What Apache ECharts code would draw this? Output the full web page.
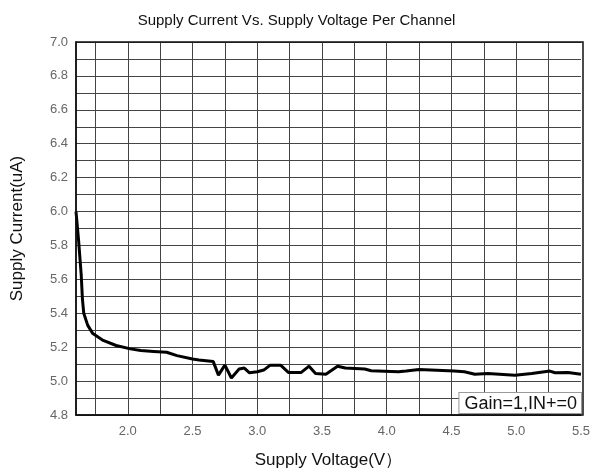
<!DOCTYPE html>
<html>
<head>
<meta charset="utf-8">
<script src="https://cdn.jsdelivr.net/npm/echarts@6/dist/echarts.min.js"></script>
<style>
    html, body { margin: 0; padding: 0; background: #fff; }
    #chart { width: 593px; height: 475px; }
</style>
</head>
<body>
<div id="chart"></div>
<script>
// 数据：电源电压(V) 与 每通道电源电流(uA)
const voltage = [1.60, 1.62, 1.64, 1.65, 1.66, 1.69, 1.73, 1.81, 1.91, 2.02, 2.10, 2.20, 2.30, 2.38, 2.50,
    2.55, 2.66, 2.70, 2.75, 2.80, 2.86, 2.90, 2.94, 3.00, 3.05, 3.10, 3.18, 3.24, 3.34, 3.40, 3.45, 3.53,
    3.62, 3.68, 3.83, 3.88, 4.09, 4.15, 4.25, 4.52, 4.60, 4.68, 4.78, 4.99, 5.12, 5.26, 5.30, 5.40, 5.50];
const current = [6.00, 5.83, 5.63, 5.48, 5.40, 5.33, 5.28, 5.24, 5.21, 5.19, 5.18, 5.175, 5.17, 5.15, 5.13,
    5.125, 5.115, 5.035, 5.094, 5.018, 5.071, 5.077, 5.049, 5.055, 5.065, 5.094, 5.094, 5.051, 5.051, 5.088, 5.045, 5.041,
    5.088, 5.077, 5.071, 5.061, 5.055, 5.06, 5.069, 5.06, 5.055, 5.04, 5.045, 5.035, 5.045, 5.059, 5.049, 5.051, 5.041];

// 坐标轴刻度
const xLabelValues = [2.0, 2.5, 3.0, 3.5, 4.0, 4.5, 5.0, 5.5];
const xGridValues = [1.75, 2.0, 2.25, 2.5, 2.75, 3.0, 3.25, 3.5, 3.75, 4.0, 4.25, 4.5, 4.75, 5.0, 5.25];

const chart = echarts.init(document.getElementById('chart'));

const gridColor = '#444';

chart.setOption({
    animation: false,
    title: {
        text: 'Supply Current Vs. Supply Voltage Per Channel',
        left: 'center',
        top: 8,
        textStyle: { fontFamily: 'Liberation Sans', fontSize: 15, fontWeight: 'normal', color: '#111' }
    },
    grid: { left: 76, right: 10, top: 42, bottom: 60 },
    xAxis: {
        type: 'value',
        min: 1.6,
        max: 5.5,
        name: 'Supply Voltage(V）',
        nameLocation: 'middle',
        nameGap: 37,
        nameTextStyle: { fontFamily: 'Liberation Sans', fontSize: 17, color: '#111' },
        axisLine: { show: true, lineStyle: { color: '#111', width: 1.5 } },
        axisTick: { show: false },
        splitLine: { show: false },
        axisLabel: {
            customValues: xLabelValues,
            margin: 10,
            color: '#666',
            fontFamily: 'Liberation Sans',
            fontSize: 13,
            formatter: v => v.toFixed(1)
        }
    },
    yAxis: {
        type: 'value',
        min: 4.8,
        max: 7.0,
        interval: 0.1,
        name: 'Supply Current(uA)',
        nameLocation: 'middle',
        nameGap: 50,
        nameTextStyle: { fontFamily: 'Liberation Sans', fontSize: 17, color: '#111' },
        axisLine: { show: true, lineStyle: { color: '#111', width: 1.5 } },
        axisTick: { show: false },
        splitLine: { show: true, lineStyle: { color: gridColor, width: 1 } },
        axisLabel: {
            margin: 8,
            color: '#666',
            fontFamily: 'Liberation Sans',
            fontSize: 13,
            formatter: v => (Math.round(v * 10) % 2 === 0 ? v.toFixed(1) : '')
        }
    },
    graphic: [
        {
            // 图框
            type: 'rect',
            shape: { x: 76, y: 42, width: 507, height: 373 },
            style: { fill: 'none', stroke: '#111', lineWidth: 1.5 },
            z: 10
        },
        {
            type: 'text',
            right: 11,
            bottom: 61,
            style: {
                text: 'Gain=1,IN+=0',
                fontFamily: 'Liberation Sans',
                fontSize: 18,
                fill: '#111',
                backgroundColor: '#fff',
                borderColor: '#999',
                borderWidth: 1,
                padding: [2, 4, 0, 5]
            },
            z: 20
        }
    ],
    series: [{
        type: 'line',
        data: voltage.map((v, i) => [v, current[i]]),
        showSymbol: false,
        symbol: 'none',
        lineStyle: { color: '#000', width: 3 },
        z: 5,
        markLine: {
            silent: true,
            symbol: 'none',
            label: { show: false },
            lineStyle: { color: gridColor, width: 1, type: 'solid' },
            data: xGridValues.map(v => ({ xAxis: v }))
        }
    }]
});
</script>
</body>
</html>
